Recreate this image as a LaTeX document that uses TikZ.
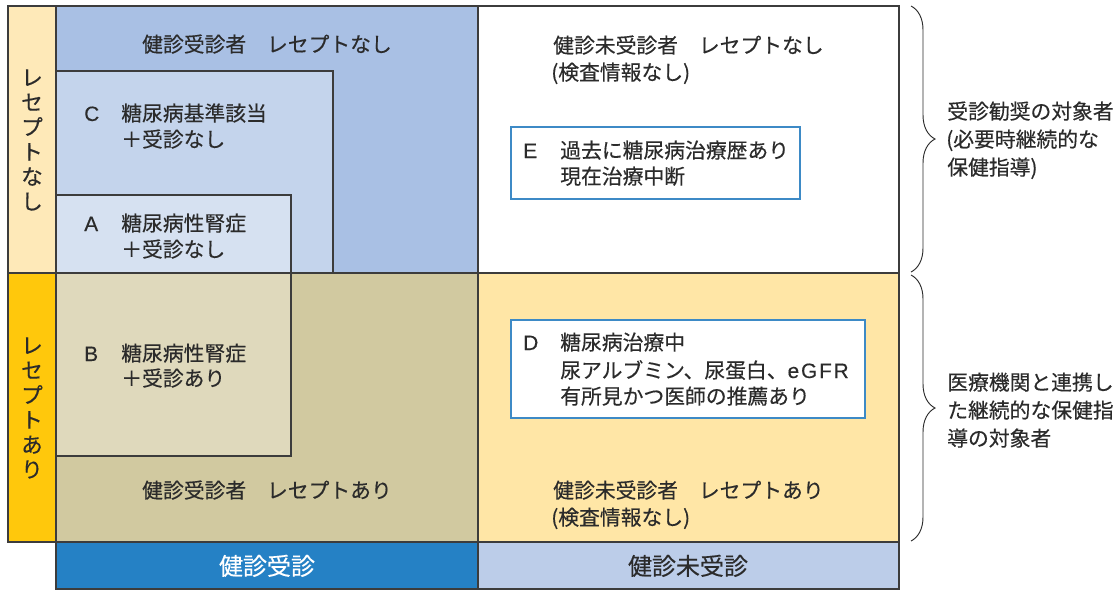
\documentclass[tikz,border=0pt]{standalone}
\usepackage{fontspec}
\setmainfont{Noto Sans CJK JP}[FakeBold=0.35]
\newfontfamily\lat{Liberation Sans}[LetterSpace=9,FakeBold=0.3]
\usetikzlibrary{decorations.pathreplacing}
\definecolor{txt}{HTML}{2B2B2B}
\definecolor{edge}{HTML}{3C3C3C}
\definecolor{boxedge}{HTML}{3D8AC6}
\definecolor{tlbg}{HTML}{A9C0E4}
\definecolor{cbox}{HTML}{C4D4EC}
\definecolor{abox}{HTML}{D6E1F1}
\definecolor{blbg}{HTML}{D1C9A0}
\definecolor{bbox}{HTML}{DFD9BC}
\definecolor{brbg}{HTML}{FFE6A6}
\definecolor{stripA}{HTML}{FEE9B8}
\definecolor{stripB}{HTML}{FFC80C}
\definecolor{barA}{HTML}{2581C5}
\definecolor{barB}{HTML}{BCCDE9}
\begin{document}
\begin{tikzpicture}[x=0.75pt,y=-0.75pt,
  lbl/.style={font=\fontsize{15.6pt}{18pt}\selectfont, text=txt, inner sep=0pt},
  vlbl/.style={font=\fontsize{16.2pt}{18.6pt}\selectfont, text=txt, inner sep=0pt, align=center},
  barlbl/.style={font=\fontsize{18pt}{22pt}\selectfont, inner sep=0pt, anchor=base},
  frame/.style={draw=edge, line width=1.1pt},
  inbox/.style={draw=boxedge, line width=0.9pt, fill=white},
  bracestyle/.style={draw=txt, line width=0.7pt, decorate, decoration={brace, amplitude=18pt}}]
\useasboundingbox (0,0) rectangle (1119,590);
% fills
\fill[tlbg] (56,6) rectangle (478,273);
\fill[cbox] (56,71) rectangle (333,273);
\fill[abox] (56,195) rectangle (291,273);
\fill[blbg] (56,273) rectangle (478,542);
\fill[bbox] (56,273) rectangle (291,456);
\fill[white] (478,6) rectangle (899,273);
\fill[brbg] (478,273) rectangle (899,542);
\fill[stripA] (8,6) rectangle (56,273);
\fill[stripB] (8,273) rectangle (56,542);
\fill[barA] (56,542) rectangle (478,589);
\fill[barB] (478,542) rectangle (899,589);
% lines
\draw[frame] (56,71) -| (333,273);
\draw[frame] (56,195) -| (291,273);
\draw[frame] (56,456) -| (291,273);
\draw[frame] (8,6) rectangle (899,542);
\draw[frame] (56,6) -- (56,589) -- (899,589) -- (899,542);
\draw[frame] (478,6) -- (478,589);
\draw[frame] (8,273) -- (899,273);
% inner boxes
\draw[inbox] (511,127) rectangle (800,199);
\draw[inbox] (511,320) rectangle (865,418);
% left strip
\node[vlbl] (vtop) at (32,140) {レ\\セ\\プ\\ト\\な\\し};
\node[vlbl] (vbot) at (32,408) {レ\\セ\\プ\\ト\\あ\\り};
% top-left
\node[lbl, anchor=base] (tl) at (267,52) {健診受診者　レセプトなし};
\node[lbl, anchor=base west] (cL) at (84,121) {\lat C};
\node[lbl, anchor=base west] (c1) at (121,121) {糖尿病基準該当};
\node[lbl, anchor=base west] (c2) at (121,147) {＋受診なし};
\node[lbl, anchor=base west] (aL) at (84,231) {\lat A};
\node[lbl, anchor=base west] (a1) at (121,231) {糖尿病性腎症};
\node[lbl, anchor=base west] (a2) at (121,257) {＋受診なし};
% bottom-left
\node[lbl, anchor=base west] (bL) at (84,361) {\lat B};
\node[lbl, anchor=base west] (b1) at (121,361) {糖尿病性腎症};
\node[lbl, anchor=base west] (b2) at (121,386) {＋受診あり};
\node[lbl, anchor=base] (bl) at (267,498) {健診受診者　レセプトあり};
% top-right
\node[lbl, anchor=base west] (tr1) at (553,53) {健診未受診者　レセプトなし};
\node[lbl, anchor=base west] (tr2) at (551,80) {(検査情報なし)};
\node[lbl, anchor=base west] (eL) at (523,158) {\lat E};
\node[lbl, anchor=base west] (e1) at (560,158) {過去に糖尿病治療歴あり};
\node[lbl, anchor=base west] (e2) at (560,184) {現在治療中断};
% bottom-right
\node[lbl, anchor=base west] (dL) at (523,350) {\lat D};
\node[lbl, anchor=base west] (d1) at (560,350) {糖尿病治療中};
\node[lbl, anchor=base west] (d2) at (560,378) {尿アルブミン、尿蛋白、{\lat eGFR}};
\node[lbl, anchor=base west] (d3) at (560,404) {有所見かつ医師の推薦あり};
\node[lbl, anchor=base west] (br1) at (553,498) {健診未受診者　レセプトあり};
\node[lbl, anchor=base west] (br2) at (551,525) {(検査情報なし)};
% bottom bar
\node[barlbl, text=white] (bar1) at (267,575) {健診受診};
\node[barlbl, text=txt] (bar2) at (688,575) {健診未受診};
% braces
\coordinate (ub1) at (911,6);
\coordinate (ub2) at (911,272);
\coordinate (lb1) at (911,275);
\coordinate (lb2) at (911,541);
\draw[bracestyle] (ub1) -- (ub2);
\draw[bracestyle] (lb1) -- (lb2);
% right notes
\node[lbl, anchor=base west] (r1) at (947,119) {受診勧奨の対象者};
\node[lbl, anchor=base west] (r2) at (946,147) {(必要時継続的な};
\node[lbl, anchor=base west] (r3) at (947,175) {保健指導)};
\node[lbl, anchor=base west] (r4) at (947,390) {医療機関と連携し};
\node[lbl, anchor=base west] (r5) at (947,418) {た継続的な保健指};
\node[lbl, anchor=base west] (r6) at (947,446) {導の対象者};
\end{tikzpicture}
\end{document}
